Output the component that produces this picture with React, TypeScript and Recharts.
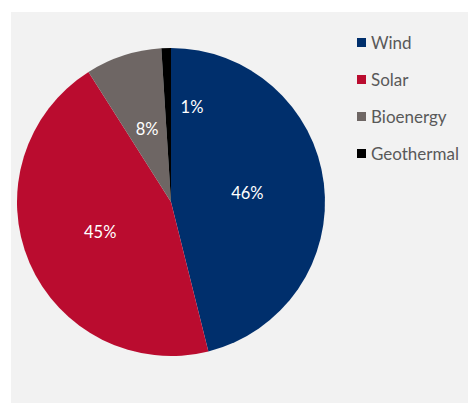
import { PieChart, Pie, Cell, Legend } from 'recharts';

const sources = ['Wind', 'Solar', 'Bioenergy', 'Geothermal'];
const shares = [46.1, 44.9, 8.0, 1.0];
const labels = ['46%', '45%', '8%', '1%'];
const colors = ['#002F6C', '#BA0C2F', '#6E6664', '#000000'];

const data = sources.map((name, i) => ({ name, value: shares[i], label: labels[i] }));

const RAD = Math.PI / 180;

// small slices get their label nudged into the neighbour, like the original
function renderLabel(props: any) {
  const { cx, cy, midAngle, outerRadius, percent, index } = props;
  const small = percent < 0.02;
  const angle = small ? midAngle - 14.3 : midAngle;
  const r = outerRadius * (small ? 0.63 : 0.5);
  const x = cx + r * Math.cos(-angle * RAD);
  const y = cy + r * Math.sin(-angle * RAD);
  return (
    <text
      x={x}
      y={y}
      fill="#ffffff"
      fontSize={16.5}
      fontFamily="Lato, sans-serif"
      textAnchor="middle"
      dominantBaseline="central"
    >
      {labels[index]}
    </text>
  );
}

function LegendBox() {
  return (
    <div style={{ fontFamily: 'Lato, sans-serif', fontSize: 17, color: '#595959' }}>
      {sources.map((s, i) => (
        <div key={s} style={{ display: 'flex', alignItems: 'center', height: 37 }}>
          <span style={{ display: 'inline-block', width: 9, height: 9, background: colors[i], marginRight: 5 }} />
          <span>{s}</span>
        </div>
      ))}
    </div>
  );
}

export default function App() {
  return (
    <div style={{ position: 'absolute', left: 0, top: 0, width: 468, height: 403, background: '#ffffff' }}>
      <div style={{ position: 'absolute', left: 11, top: 12, width: 457, height: 391, background: '#F2F2F2' }} />
      <div style={{ position: 'absolute', left: 0, top: 0 }}>
        <PieChart width={468} height={403} margin={{ top: 0, right: 0, bottom: 0, left: 0 }}>
          <Pie
            data={data}
            dataKey="value"
            nameKey="name"
            cx={171}
            cy={202}
            outerRadius={154}
            startAngle={90}
            endAngle={-270}
            stroke="none"
            label={renderLabel}
            labelLine={false}
            isAnimationActive={false}
          >
            {data.map((d, i) => (
              <Cell key={d.name} fill={colors[i]} />
            ))}
          </Pie>
          <Legend
            content={<LegendBox />}
            wrapperStyle={{ position: 'absolute', left: 357, top: 24, width: 110 }}
          />
        </PieChart>
      </div>
    </div>
  );
}
